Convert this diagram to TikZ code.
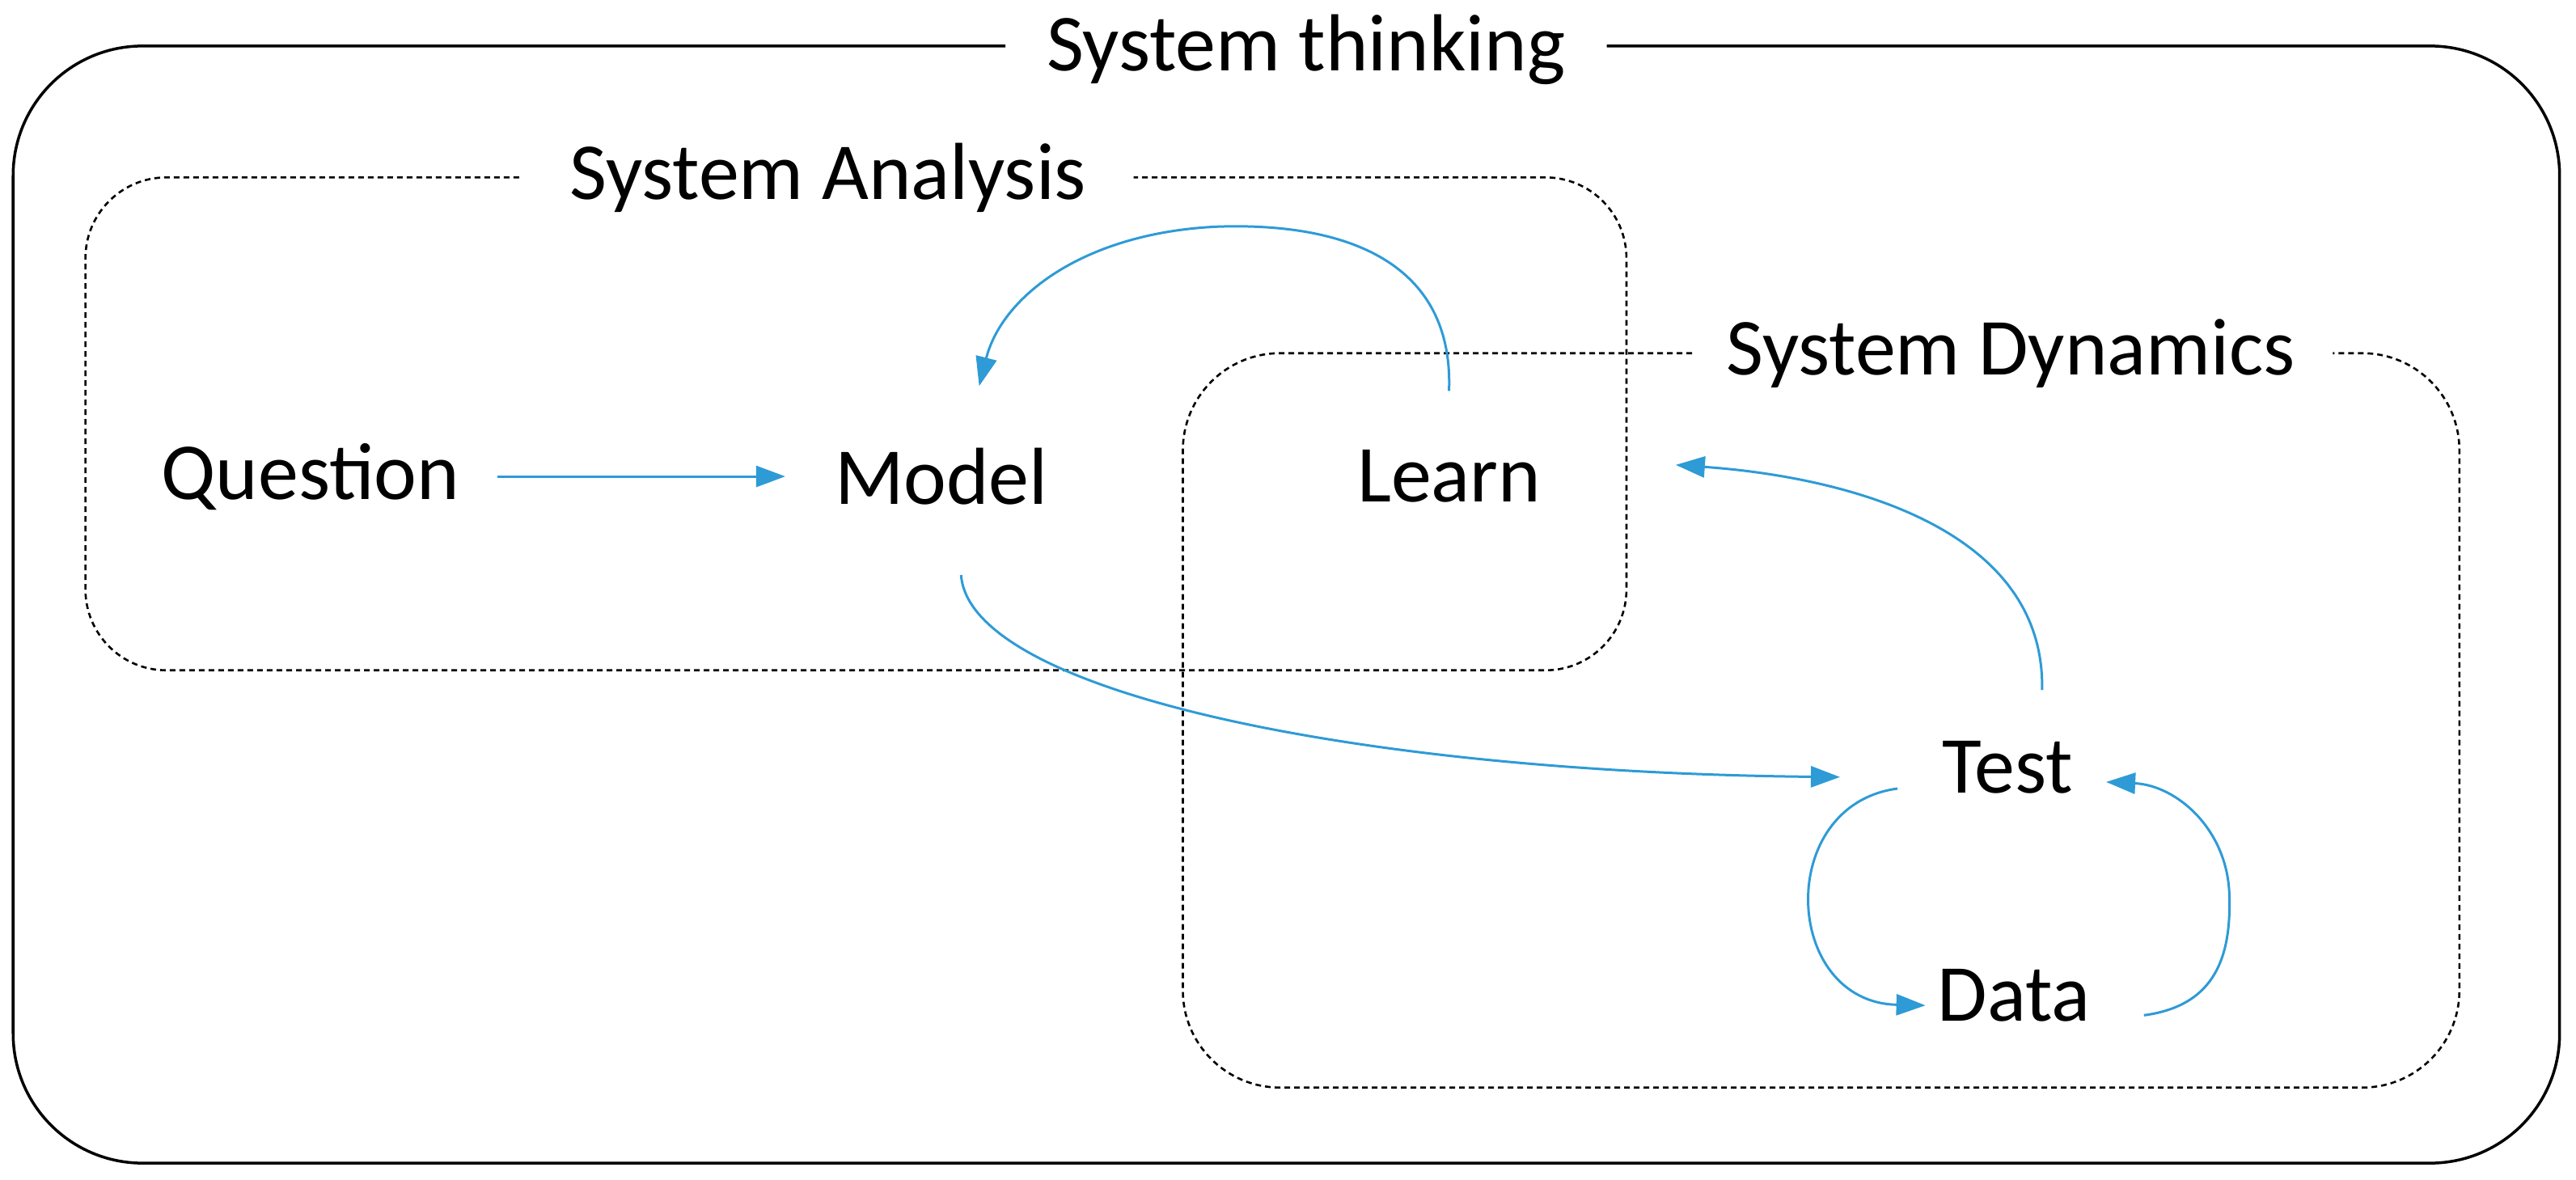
\documentclass[tikz,border=0pt]{standalone}
\usepackage{fontspec}
\setmainfont{Carlito}
\usetikzlibrary{arrows.meta}
\begin{document}
\begin{tikzpicture}[x=2.031pt,y=-2.031pt,
  lbl/.style={font=\fontsize{100}{120}\selectfont, inner sep=0pt},
  box/.style={line width=3.5pt, rounded corners=#1},
  dbox/.style={line width=2.6pt, dash pattern=on 7pt off 5pt, rounded corners=#1},
  arr/.style={line width=3pt, draw={rgb,255:red,46;green,155;blue,214}, fill={rgb,255:red,46;green,155;blue,214}, -{Triangle[length=36pt,width=26pt]}}]
\useasboundingbox (0,0) rectangle (1568,718);
% outer
\draw[box=80pt*2] (612,28) -- (8,28) -- (8,708) -- (1558,708) -- (1558,28) -- (978,28);
\node[lbl] (st) at (795,30) {System thinking};
% analysis
\draw[dbox=50pt*2] (316,108) -- (52,108) -- (52,408) -- (990,408) -- (990,108) -- (690,108);
\node[lbl] (sa) at (504,108) {System Analysis};
% dynamics
\draw[dbox=60pt*2] (1030,215) -- (720,215) -- (720,662) -- (1497,662) -- (1497,215) -- (1420,215);
\node[lbl] (sd) at (1224,215) {System Dynamics};
% words
\node[lbl] (q) at (189,290) {Question};
\node[lbl] (m) at (573,290) {Model};
\node[lbl] (l) at (882,290) {Learn};
\node[lbl] (t) at (1222,467) {Test};
\node[lbl] (d) at (1226,606) {Data};
% connector endpoints
\coordinate (q1) at (303,290); \coordinate (m1) at (478,290);
\coordinate (l1) at (882,238); \coordinate (m2) at (596,235);
\coordinate (m3) at (585,350); \coordinate (t1) at (1120,473);
\coordinate (t2) at (1243,420); \coordinate (l2) at (1020,283);
\coordinate (t3) at (1155,480); \coordinate (d1) at (1172,612);
\coordinate (d2) at (1305,618); \coordinate (t4) at (1282,476);
\tikzset{nofill/.style={fill=none}}
\draw[arr] (q1) -- (m1);
\draw[arr,nofill] (l1) .. controls (885,160) and (820,135) .. (740,138) .. controls (660,142) and (610,180) .. (m2);
\draw[arr,nofill] (m3) .. controls (590,420) and (820,470) .. (t1);
\draw[arr,nofill] (t2) .. controls (1245,320) and (1120,290) .. (l2);
\draw[arr,nofill] (t3) .. controls (1080,490) and (1085,610) .. (d1);
\draw[arr,nofill] (d2) .. controls (1350,612) and (1358,580) .. (1357,545) .. controls (1356,505) and (1325,478) .. (t4);
\end{tikzpicture}
\end{document}
